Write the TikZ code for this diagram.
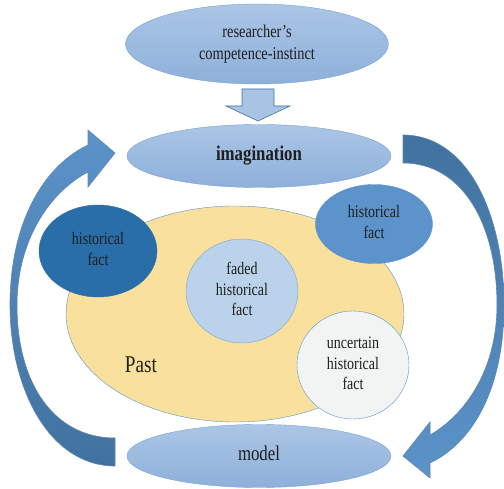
\documentclass[tikz,border=0pt]{standalone}
\usepackage{fontspec}
\setmainfont{Liberation Serif}
\usepackage{graphicx}
\usepackage{tikz}
\usetikzlibrary{shapes.geometric,positioning,calc}
\definecolor{skyedge}{HTML}{7AA2D2}
\definecolor{skytop}{HTML}{ABC6E6}
\definecolor{skybot}{HTML}{8DB0DA}
\definecolor{pastfill}{HTML}{F9E09C}
\definecolor{factdeep}{HTML}{2A6EA9}
\definecolor{factmid}{HTML}{5B93CA}
\definecolor{factpale}{HTML}{BBD3EA}
\definecolor{factwhite}{HTML}{F2F4F4}
\definecolor{loopdark}{HTML}{41729F}
\definecolor{looplight}{HTML}{5B93CA}
\definecolor{inkdark}{HTML}{1E1E1E}
% narrow, tall lettering as in the figure
\newcommand{\talltext}[1]{\scalebox{0.8}[1]{\begin{tabular}{@{}c@{}}#1\end{tabular}}}
\tikzset{
  cbox/.style={ellipse, inner sep=0pt, draw=skyedge, top color=skytop, bottom color=skybot, text=inkdark, font=\fontsize{21}{24}\selectfont},
  fbox/.style={ellipse, inner sep=0pt, draw=skyedge, text=inkdark, font=\fontsize{17.5}{20.5}\selectfont},
  cyclearrow/.style={draw=loopdark!85, line width=0.6pt},
}

\begin{document}
\begin{tikzpicture}[x=1pt, y=-1pt]
  \useasboundingbox (0,0) rectangle (504,489);
  % the two curved arrows of the cycle
  \path[cyclearrow, top color=looplight, bottom color=loopdark]
    (115,466) .. controls (50,466) and (10,390) .. (10,305)
    .. controls (10,228) and (40,168) .. (88,145) -- (88,130) -- (115,153) -- (88,187) -- (88,172)
    .. controls (50,192) and (17,240) .. (17,305)
    .. controls (17,385) and (55,438) .. (115,438) -- cycle;
  \path[cyclearrow, top color=loopdark, bottom color=looplight]
    (403,135) .. controls (468,135) and (504,215) .. (504,305)
    .. controls (504,390) and (472,443) .. (430,463) -- (430,478) -- (403,456) -- (430,422) -- (430,435)
    .. controls (465,415) and (497,370) .. (497,305)
    .. controls (497,225) and (463,163) .. (403,163) -- cycle;
  % main ellipses
  \node[cbox, minimum width=263pt, minimum height=80pt, font=\fontsize{18}{22}\selectfont] (source) at (257,44) {\talltext{researcher’s\\competence-instinct}};
  \node[cbox, minimum width=264pt, minimum height=63pt, font=\fontsize{21}{24}\selectfont\bfseries] (imag) at (259,156) {\talltext{imagination}};
  \node[cbox, minimum width=264pt, minimum height=63pt] (model) at (259,456) {\talltext{model}};
  \path[draw=loopdark, line width=0.6pt, fill=skytop!90!skybot]
    (242,89) -- (274,89) -- (274,106) -- (290,106) -- (258,121) -- (226,106) -- (242,106) -- cycle;
  % past and the facts in it
  \node[fbox, draw=looplight, fill=pastfill, minimum width=338pt, minimum height=216pt] (past) at (235,314) {};
  \node[text=inkdark, font=\fontsize{24}{28}\selectfont] (pastlabel) at (141,367) {\talltext{Past}};
  \node[fbox, draw=factdeep, fill=factdeep, minimum width=118pt, minimum height=92pt] (factleft) at (98,251) {\talltext{historical\\fact}};
  \node[fbox, draw=factmid, fill=factmid, minimum width=117pt, minimum height=79pt] (factright) at (374,224) {\talltext{historical\\fact}};
  \node[fbox, fill=factpale, minimum width=112pt, minimum height=104pt] (faded) at (242,291) {\talltext{faded\\historical\\fact}};
  \node[fbox, draw=looplight, fill=factwhite, minimum width=112pt, minimum height=108pt] (uncertain) at (353,365) {\talltext{uncertain\\historical\\fact}};
\end{tikzpicture}
\end{document}
